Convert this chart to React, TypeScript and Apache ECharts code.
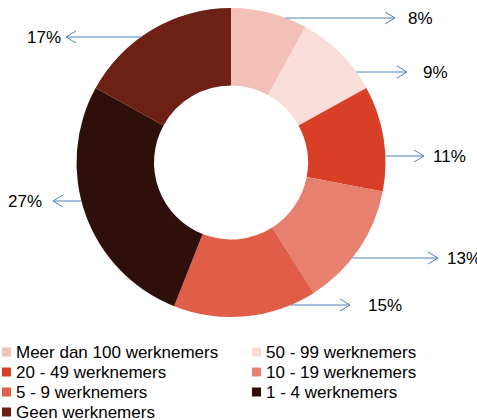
import React, { useEffect, useRef } from "react";
import * as echarts from "echarts";

const categories = [
  "Meer dan 100 werknemers",
  "50 - 99 werknemers",
  "20 - 49 werknemers",
  "10 - 19 werknemers",
  "5 - 9 werknemers",
  "1 - 4 werknemers",
  "Geen werknemers",
];
const values = [8, 9, 11, 13, 15, 27, 17];
const colors = ["#F2C0B6", "#F8DDD8", "#D74026", "#E8806F", "#E05E48", "#2F0F09", "#6D2014"];

const legendLeft = [categories[0], categories[2], categories[4], categories[6]];
const legendRight = [categories[1], categories[3], categories[5]];

// annotation layout (callout positions): label y, arrow tip x, label text x
const calloutY = [18, 72, 156, 258, 305, 201, 37];
const calloutTipX = [395, 407, 424, 438, 350, 53, 66];
const calloutTextX = [408, 423, 433, 447, 368, 42, 61];

const CX = 231;
const CY = 162.5;
const R_OUT = 154.5;
const R_IN = 77;
const FONT = "'Liberation Sans', Arial, sans-serif";
const ARROW = "#4F81BD";

export default function App() {
  const ref = useRef<HTMLDivElement>(null);
  useEffect(() => {
    if (!ref.current) return;
    const chart = echarts.init(ref.current, undefined, { renderer: "svg" });
    const total = values.reduce((a, b) => a + b, 0);
    let cum = 0;
    const sides: number[] = values.map((v) => {
      const mid = ((cum + v / 2) / total) * 360;
      cum += v;
      return mid < 180 ? 1 : -1;
    });
    const graphics: any[] = [];
    values.forEach((_, i) => {
      const side = sides[i];
      const y = calloutY[i];
      const dy = y - CY;
      const startX = CX + side * Math.sqrt(Math.max(0, R_OUT * R_OUT - dy * dy));
      const tipX = calloutTipX[i];
      graphics.push({
        type: "line",
        silent: true,
        shape: { x1: startX, y1: y, x2: tipX, y2: y },
        style: { stroke: ARROW, lineWidth: 1 },
        z: 10,
      });
      graphics.push({
        type: "polyline",
        silent: true,
        shape: {
          points: [
            [tipX - side * 10, y - 6],
            [tipX, y],
            [tipX - side * 10, y + 6],
          ],
        },
        style: { stroke: ARROW, lineWidth: 1, fill: "none" },
        z: 10,
      });
    });

    const legendCommon = {
      orient: "vertical" as const,
      top: 342,
      padding: 0,
      itemWidth: 9,
      itemHeight: 9,
      itemGap: 0,
      icon: "rect",
      selectedMode: false,
      textStyle: { fontFamily: FONT, fontSize: 17, color: "#000", lineHeight: 20 },
    };

    chart.setOption({
      animation: false,
      color: colors,
      legend: [
        { ...legendCommon, left: 2, data: legendLeft },
        { ...legendCommon, left: 252, data: legendRight },
      ],
      graphic: graphics,
      series: [
        {
          type: "pie",
          center: [CX, CY],
          radius: [R_IN, R_OUT],
          startAngle: 90,
          clockwise: true,
          avoidLabelOverlap: false,
          label: {
            show: true,
            position: "outside",
            formatter: (p: any) => `${p.value}%`,
            fontFamily: FONT,
            fontSize: 17,
            color: "#000",
          },
          labelLine: { show: false },
          labelLayout: (params: any) => {
            const i = params.dataIndex;
            const right = sides[i] > 0;
            return {
              x: calloutTextX[i],
              y: calloutY[i],
              align: right ? "left" : "right",
              verticalAlign: "middle",
            };
          },
          emphasis: { disabled: true },
          data: categories.map((name, i) => ({ name, value: values[i] })),
        },
      ],
    });
    return () => chart.dispose();
  }, []);
  return (
    <div
      ref={ref}
      style={{ position: "fixed", left: 0, top: 0, width: 477, height: 460, background: "#fff" }}
    />
  );
}
